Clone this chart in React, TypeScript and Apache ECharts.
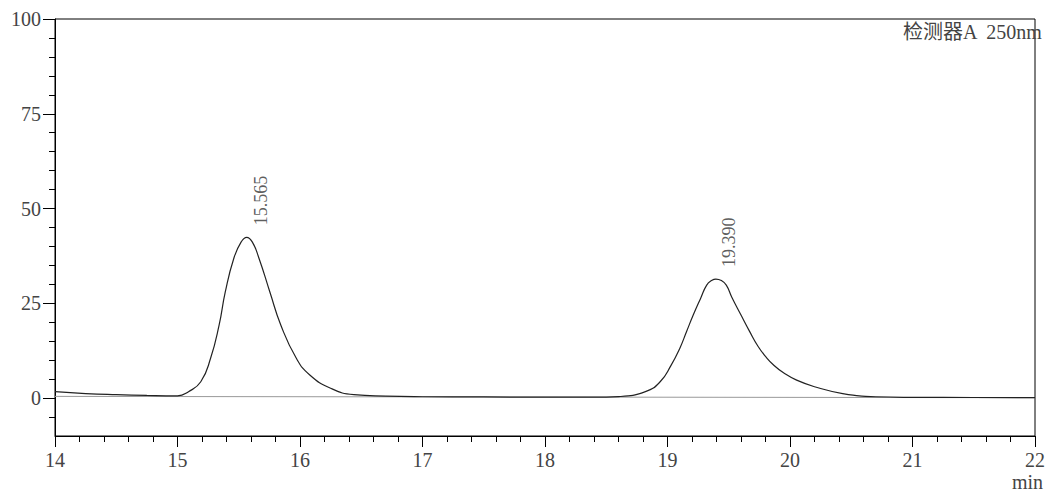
import React, { useEffect, useRef } from 'react';
import * as echarts from 'echarts';

const retentionTimes = [
  14.0, 14.25, 14.5, 14.75, 15.0, 15.09, 15.19, 15.27, 15.34, 15.39, 15.46, 15.52, 15.565,
  15.61, 15.665, 15.754, 15.843, 15.97, 16.08, 16.25, 16.44, 16.7, 17.0, 17.5, 18.0, 18.4,
  18.6, 18.82, 18.94, 19.03, 19.1, 19.155, 19.21, 19.27, 19.32, 19.36, 19.395, 19.44, 19.48,
  19.525, 19.6, 19.67, 19.74, 19.8, 19.87, 19.95, 20.05, 20.2, 20.43, 20.7, 21.0, 21.5, 22.0,
];
const signal = [
  1.7, 1.2, 0.9, 0.7, 0.6, 1.7, 4.3, 10.5, 19.3, 28.0, 36.9, 41.2, 42.4,
  41.2, 36.9, 28.0, 19.3, 10.5, 6.1, 2.6, 0.9, 0.5, 0.35, 0.3, 0.25, 0.25,
  0.4, 1.7, 4.3, 8.7, 13.1, 17.5, 21.9, 26.3, 29.8, 31.0, 31.4, 31.0, 29.8,
  26.6, 21.9, 17.6, 13.6, 11.0, 8.6, 6.6, 4.8, 3.0, 1.2, 0.35, 0.2, 0.15, 0.1,
];
const baselineTimes = [14.0, 22.0];
const baselineValues = [0.45, 0.1];
const peakTimes = [15.565, 19.39];
const peakHeights = [42.4, 31.4];
const yMajorTicks = [0, 25, 50, 75, 100];
const yMinorTicks = [-5, 5, 10, 15, 20, 30, 35, 40, 45, 55, 60, 65, 70, 80, 85, 90, 95];
const detectorLabel = '检测器A  250nm';
const xUnit = 'min';

const FONT = '"Liberation Serif", "Noto Sans CJK SC", serif';

export default function App() {
  const ref = useRef<HTMLDivElement>(null);
  useEffect(() => {
    const chart = echarts.init(ref.current!, null, { renderer: 'svg' });
    const curve = retentionTimes.map((t, i) => [t, signal[i]]);
    const base = baselineTimes.map((t, i) => [t, baselineValues[i]]);
    const peaks = peakTimes.map((t, i) => [t, peakHeights[i]]);
    chart.setOption({
      animation: false,
      backgroundColor: '#fff',
      grid: {
        left: 55, right: 5, top: 19, bottom: 57,
        show: true, borderColor: '#000', borderWidth: 1,
      },
      xAxis: {
        type: 'value', min: 14, max: 22, interval: 1,
        axisLine: { onZero: false, lineStyle: { color: '#000', width: 1 } },
        axisTick: { length: 11, lineStyle: { color: '#000' } },
        minorTick: { show: true, splitNumber: 5, length: 6, lineStyle: { color: '#000' } },
        splitLine: { show: false },
        minorSplitLine: { show: false },
        axisLabel: { fontFamily: FONT, fontSize: 20, color: '#444', margin: 14 },
      },
      yAxis: [
        {
          type: 'value', min: -10, max: 100,
          axisLine: { show: true, onZero: false, lineStyle: { color: '#000', width: 1 } },
          axisTick: { show: true, customValues: yMajorTicks, length: 12, lineStyle: { color: '#000' } },
          axisLabel: { customValues: yMajorTicks, fontFamily: FONT, fontSize: 20, color: '#444', margin: 14 },
          splitLine: { show: false },
        },
        {
          type: 'value', min: -10, max: 100, position: 'left',
          axisLine: { show: false, onZero: false },
          axisTick: { show: true, customValues: yMinorTicks, length: 6, lineStyle: { color: '#000' } },
          axisLabel: { show: false },
          splitLine: { show: false },
        },
      ],
      series: [
        {
          type: 'line', data: base, symbol: 'none', silent: true,
          lineStyle: { color: '#999', width: 1 },
        },
        {
          type: 'line', data: curve, symbol: 'none', smooth: 0.5,
          lineStyle: { color: '#222', width: 1.2 },
        },
        {
          type: 'scatter', data: peaks, symbolSize: 0,
          label: {
            show: true, position: [14, -12], rotate: 90, align: 'left', verticalAlign: 'middle',
            formatter: (p: any) => p.value[0].toFixed(3),
            fontFamily: FONT, fontSize: 18, color: '#333',
          },
        },
      ],
      graphic: [
        {
          type: 'text', right: 5, top: 22,
          style: { text: detectorLabel, font: `20px ${FONT}`, fill: '#444' },
        },
        {
          type: 'text', right: 5, top: 472,
          style: { text: xUnit, font: `20px ${FONT}`, fill: '#444' },
        },
      ],
    });
    return () => chart.dispose();
  }, []);
  return (
    <div
      ref={ref}
      style={{ position: 'fixed', left: 0, top: 0, width: 1048, height: 493, background: '#fff' }}
    />
  );
}
